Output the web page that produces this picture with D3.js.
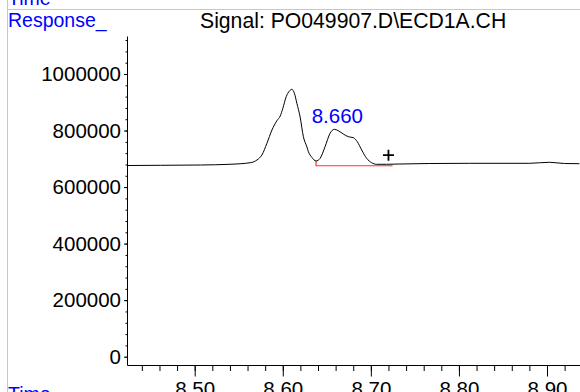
<!DOCTYPE html>
<html><head><meta charset="utf-8">
<script src="https://cdn.jsdelivr.net/npm/d3@7"></script>
<style>
html,body{margin:0;padding:0;background:#fff;overflow:hidden}
svg{display:block;font-family:"Liberation Sans",Arial,sans-serif}
</style></head>
<body><svg id="c" width="580" height="392"></svg>
<script>
// ---- data ----
const times = [8.424,8.461,8.5065,8.540,8.563,8.5707,8.5763,8.582,8.5877,8.5933,8.5971,8.6001,8.6039,8.6076,8.6103,8.6132,8.6160,8.6197,8.6234,8.6273,8.6291,8.6330,8.6378,8.6424,8.6480,8.6537,8.6585,8.6631,8.6687,8.6744,8.6801,8.6846,8.6896,8.6952,8.7009,8.7066,8.7179,8.7330,8.7669,8.8122,8.8801,8.9028,8.9198,8.9368];
const responses = [676300,677000,678100,680600,686200,695800,713500,754900,801900,834800,851400,878700,919700,939900,945900,931700,896400,847900,778200,742800,725200,705300,692300,701800,742800,790200,804400,799400,787700,778200,774700,760500,731200,701800,686200,680600,680600,681600,683400,684100,684100,687700,683400,682700];
const yTicks = [0,200000,400000,600000,800000,1000000];
const xTicks = [8.50,8.60,8.70,8.80,8.90];
const peakLabel = "8.660";
const peakPoint = [8.6585, 804400];
const baselineStart = [8.6378, 692300];
const baselineSeg = [[8.6378,675400],[8.7247,675400]];
const plusMarker = [8.720, 713000];
const titleText = "Signal: PO049907.D\\ECD1A.CH";
const yAxisTitle = "Response_";
const xAxisTitle = "Time";

// ---- layout ----
const svg = d3.select("#c");
const x = d3.scaleLinear().domain([8.5, 8.9]).range([194.7, 547]);
const y = d3.scaleLinear().domain([0, 1000000]).range([356.7, 74]);
const axisY = 365.5, axisX = 127.5;
const font = '"Liberation Sans",Arial,sans-serif';

// green frame lines
svg.append("line").attr("x1",7.5).attr("x2",7.5).attr("y1",0).attr("y2",392).attr("stroke","#8cf08c").attr("stroke-width",1);
svg.append("line").attr("x1",7.5).attr("x2",580).attr("y1",9.5).attr("y2",9.5).attr("stroke","#8cf08c").attr("stroke-width",1);

// top-cut "Time"
svg.append("text").attr("x",8).attr("y",5).attr("fill","#0000ff").style("font-size","19.5px").text(xAxisTitle);
svg.append("text").attr("x",8).attr("y",27).attr("fill","#0000ff").style("font-size","19.5px").text(yAxisTitle);
svg.append("text").attr("x",200).attr("y",28).attr("fill","#000").style("font-size","21.2px").text(titleText);
svg.append("text").attr("x",8).attr("y",401).attr("fill","#0000ff").style("font-size","19.5px").text(xAxisTitle);

// y axis
const yMinor = d3.range(-0, 1130001, 40000);
const gy = svg.append("g").attr("transform",`translate(${axisX},0)`);
gy.call(d3.axisLeft(y).tickValues(yMinor).tickSize(2).tickFormat(""));
gy.call(g=>g.select(".domain").remove());
const gy2 = svg.append("g").attr("transform",`translate(${axisX},0)`);
gy2.call(d3.axisLeft(y).tickValues(yTicks).tickSize(3.5).tickPadding(3).tickFormat(d3.format("d")));
gy2.call(g=>g.select(".domain").remove());
gy2.selectAll("text").style("font-size","20.5px").attr("font-family",font).attr("fill","#000");
svg.append("line").attr("x1",axisX).attr("x2",axisX).attr("y1",36.5).attr("y2",axisY).attr("stroke","#000");

// x axis
const xMinor = d3.range(8.42, 8.94, 0.02);
const gx = svg.append("g").attr("transform",`translate(0,${axisY})`);
gx.call(d3.axisBottom(x).tickValues(xMinor.filter(v=>x(v)>axisX && x(v)<580)).tickSize(5.5).tickFormat(""));
gx.call(g=>g.select(".domain").remove());
const gx2 = svg.append("g").attr("transform",`translate(0,${axisY})`);
gx2.call(d3.axisBottom(x).tickValues(xTicks).tickSize(11).tickPadding(5).tickFormat(d3.format(".2f")));
gx2.call(g=>g.select(".domain").remove());
gx2.selectAll("text").style("font-size","20.5px").attr("font-family",font).attr("fill","#000");
svg.selectAll(".tick line").attr("stroke","#000");
svg.append("line").attr("x1",axisX).attr("x2",580).attr("y1",axisY).attr("y2",axisY).attr("stroke","#000");

// baseline (red)
svg.append("path")
  .attr("d", d3.line()([[x(baselineStart[0]), y(baselineStart[1])], [x(baselineSeg[0][0]), y(baselineSeg[0][1])], [x(baselineSeg[1][0]), y(baselineSeg[1][1])]]))
  .attr("fill","none").attr("stroke","#ff3030").attr("stroke-width",1.2);

// trace
const pts = times.map((t,i)=>[t, responses[i]]);
svg.append("path").datum(pts)
  .attr("d", d3.line().x(d=>x(d[0])).y(d=>y(d[1])).curve(d3.curveMonotoneX))
  .attr("fill","none").attr("stroke","#000").attr("stroke-width",1);

// peak label
svg.append("text").attr("x", x(peakPoint[0])+3).attr("y", y(peakPoint[1])-6)
  .attr("text-anchor","middle").attr("fill","#0000ff").style("font-size","20.5px").text(peakLabel);

// plus marker
const px = x(plusMarker[0]), py = y(plusMarker[1]);
svg.append("path").attr("d",`M${px-5.5},${py}H${px+5.5}M${px},${py-5.5}V${py+5.5}`)
  .attr("stroke","#000").attr("stroke-width",1.8).attr("fill","none");
</script></body></html>
